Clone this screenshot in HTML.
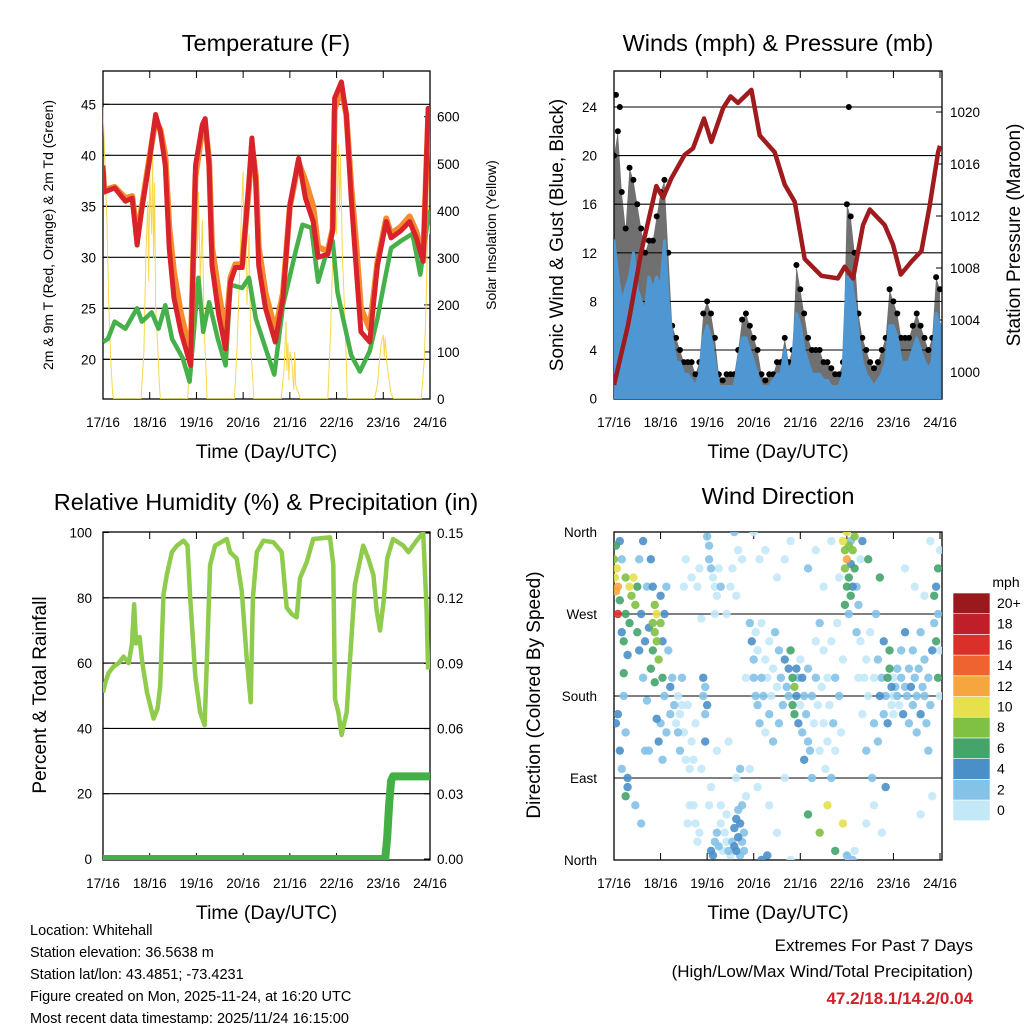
<!DOCTYPE html>
<html><head><meta charset="utf-8"><style>
html,body{margin:0;padding:0;background:#fff;}
svg{display:block;font-family:"Liberation Sans",Arial,sans-serif;}
</style></head><body>
<svg id="c" width="1024" height="1024" viewBox="0 0 1024 1024" xmlns="http://www.w3.org/2000/svg">
<defs>
<clipPath id="cp1"><rect x="103" y="71" width="327" height="328"/></clipPath>
<clipPath id="cp2"><rect x="614" y="71" width="328" height="328"/></clipPath>
<clipPath id="cp3"><rect x="103" y="532" width="327" height="328"/></clipPath>
<clipPath id="cp4"><rect x="614" y="532" width="328" height="328"/></clipPath>
</defs>
</svg>
<script>
// ---------- DATA ----------
const dayLabels=["17/16","18/16","19/16","20/16","21/16","22/16","23/16","24/16"];
const tempTicks=[20,25,30,35,40,45];
const solarTicks=[0,100,200,300,400,500,600];
const windTicks=[0,4,8,12,16,20,24];
const presTicks=[1000,1004,1008,1012,1016,1020];
const rhTicks=[0,20,40,60,80,100];
const precipTicks=["0.00","0.03","0.06","0.09","0.12","0.15"];
const dirLabels=["North","East","South","West","North"];
const speedBins=["0","2","4","6","8","10","12","14","16","18","20+"];
const speedColors=["#c3e8f8","#84c2e8","#4b8fc8","#45a46a","#80c144","#e6e04c","#f5a63e","#ee632e","#da3029","#c01f29","#9a191c"];

const tT=[0,0.6,6,11.5,15,17.5,20,23.5,27,29.5,32,34,36.5,40,45,47.5,51,52.5,54.5,56,59.5,63,65.5,68,71.5,75,76.5,78.5,80,83.5,88.5,92.5,96,100.5,104,108,110.5,115.5,118,119,122.5,125,127.5,130,132.5,137,141,145.5,148,153,157.5,161,164.5,167,168];
const tempRed=[39,36.4,36.8,35.5,35.8,31.2,34.8,39,44,42.3,39,30.9,26,22.7,19.4,39,43,43.6,39,29.2,24.3,21,27.6,29,29,37.4,41.7,37.4,29.2,25,21.7,26,35.1,39.7,35.8,33.5,30,30.3,32.6,45.6,47.2,44,35.8,29.2,22.7,21.7,29.2,33.5,31.9,32.6,33.5,31.9,29.6,44.6,43.6];
const tempOrange=[38.5,36.6,36.9,35.8,36,32,35,39.3,43.5,42.5,40,33,28.5,24.5,20.5,38,42.5,43,39.5,31,26.5,22.5,28,29.3,29.3,37,41,38,31,26.5,22.8,26.5,35,39.3,37.5,35,31,30.6,32.8,44.5,46.5,44,37,31.5,25,23,29.5,33.8,32.3,33,34,32.5,30,43.5,43];
const tD=[0,2.5,6,11.5,17.5,20,25,28.5,32,35.5,41,44.5,49,51.5,54.5,59,63,65.5,71.5,75,78.5,83.5,88,92.5,99,102.5,107,110.5,114,118,120.5,123,127.5,132,137,141,145,148,153,159,163,167,168];
const dewGreen=[21.7,22,23.7,23,25,23.7,24.6,23,25.3,22,20.1,17.8,28,22.7,25.6,22,19.4,27.3,27,28,24,21.1,18.5,25.3,30.6,33.2,32.9,27.6,29.9,31.6,26.6,24.3,20.4,18.8,20.8,24,28,30.9,31.6,32.3,28.3,33.9,34.6];
const tS=[0,1,2,3,4,5,5.5,19.5,21,22,23,23.5,24,25,25.5,26,26.5,27,28,29,29.5,43.5,45,46,47,48,48.5,49,50,51,52,53,53.5,67.5,69,70,71,72,72.5,73,74,75,76,77,77.5,91.5,93,94,94.5,95,95.5,96,97,98,98.5,99,101.5,115.5,117,118,119,120,121,121.5,122,123,124,125,125.5,139.5,141,142,143,144,144.5,145,146,147,148,149.5,163.5,165,166,167,168];
const solar=[620,500,380,200,80,10,0,0,100,300,420,250,480,350,526,300,460,200,120,30,0,0,150,280,430,483,300,440,250,380,150,50,0,0,120,250,380,483,300,420,200,350,100,40,0,0,60,164,60,120,40,100,80,20,100,30,0,0,150,300,450,350,540,400,520,300,200,80,0,0,30,80,120,136,90,130,70,40,10,0,0,80,200,412,350];

const tP=[0,7.2,14.1,21.8,25.3,29.6,36.4,40.7,46.4,50.2,56.2,60.1,63.9,70.8,75.1,82.8,88,93.1,98.3,106.9,115.4,118.9,123.2,128.3,131.8,139.5,143.8,147.8,153.3,158.4,162.7,167,168];
const pressure=[999,1003.6,1009.3,1014.3,1013.4,1014.9,1016.7,1017.2,1019.5,1017.7,1020.3,1021.2,1020.7,1021.7,1018.2,1016.9,1014.4,1013.1,1008.7,1007.4,1007.2,1008.1,1007.2,1011.3,1012.5,1011.3,1009.8,1007.5,1008.5,1009.3,1012.8,1016.9,1017.4];
const windHours=[0,2,4,6,8,10,12,14,16,18,20,22,24,26,28,30,32,34,36,38,40,42,44,46,48,50,52,54,56,58,60,62,64,66,68,70,72,74,76,78,80,82,84,86,88,90,92,94,96,98,100,102,104,106,108,110,112,114,116,118,120,122,124,126,128,130,132,134,136,138,140,142,144,146,148,150,152,154,156,158,160,162,164,166,168];
const windSpeed=[13,10,8,9,10,12,9,8,7,10,9,10,9,13,8,5,3,3,2,2,1.5,1,2,5,6,5,3,1,1,1,1,1,3,5,5,4,3,2,1,1,1,1.5,2,2,4,2,3,7,6,4,3,2,2,2,1.5,1.5,1,1,1,2,10,10,8,5,3,2,1.5,1,1.5,2,3,6,6,5,3,3,3,4,5,4,3,2.5,3,7,6];
const windGust=[20,22,17,14,19,18,16,14,12,13,13,15,17,18,12,6,5,4,3,3,3,2,3,7,8,7,5,2,1.5,2,2,2,4,6.5,7,6,5,4,2,1.5,2,2,3,3,5,3,4,11,9,7,5,4,4,4,3,3,2.5,2,2,3,16,15,12,7,5,4,3,2.5,3,4,5,9,8,7,5,5,5,6,7,6,5,4,5,10,9];
const gustPeakT=[1,3,121];
const gustPeakV=[25,24,24];

const tRH=[0,1.2,2.9,5.5,8,10.6,13.2,14.9,16,17,18.8,20,22.6,25.1,26,28,29.4,31.1,32.8,35.4,38,41.4,43.4,44.8,47.4,49.9,52.2,53.4,55,57.6,63.6,65.3,68.7,71.3,73.9,75.9,77,79,82.4,87.6,91.8,94.4,97,99.5,101.2,104.7,108,116.6,118.3,119.2,120.9,122.6,125.2,126.9,129.4,133.7,136.3,138.9,140.6,142.3,144,146,149,154.3,156.9,161.1,164.5,166.2,167];
const rh=[51,54,57,59,60,62,60,66,78,66,68,61,51,45,43,46,53,81,87,94,96,97.5,96,80,56,45,41,61,90,96,98,94,92,82,61,48,80,94,97.5,97,94,77,75,74,86,91,98,98.5,90,49,45,38,45,61,84,96,92,87,76,70,78,92,98,96,94,97.5,100,77,58];
const tPr=[0,145,146,147,148,149,168];
const precip=[0,0,0.01,0.025,0.036,0.038,0.038];

const dT=[0,0.5,1,1,1.5,2,2,3,3,4,4,5,5,5,6,6,7,7,8,8,1,2,3,6,7,4,6,9,10,11,12,12,13,13,14,15,15,16,16,11,14,17,17,18,19,20,20,21,21,22,22,23,24,24,25,25,26,26,27,28,29,22,23,21,20,19,18,24,27,25,29,30,31,32,33,33,34,34,35,35,36,37,38,39,40,41,42,42,43,44,45,46,46,47,47,48,47,36,37,40,43,45,44,41,39,38,48,49,49,50,51,52,53,54,55,52,50,51,52,53,54,55,56,49,50,53,55,57,58,58,59,60,61,62,62,63,63,64,64,65,65,66,66,67,67,68,60,61,62,64,66,58,63,68,59,63,65,70,71,72,72,73,73,74,74,75,76,76,77,78,78,79,80,80,81,82,82,83,84,85,85,86,87,88,89,90,90,91,92,92,93,93,94,94,95,95,96,96,72,75,78,84,88,91,70,74,80,84,88,91,76,79,97,97,98,98,99,100,100,101,102,102,103,104,104,105,106,106,107,108,108,109,110,110,111,112,112,113,114,114,115,116,117,118,100,104,108,112,116,100,106,110,114,118,118,119,119,120,120,120,121,121,122,122,123,123,124,124,119,121,122,123,120,121,124,125,125,126,127,126,127,128,129,130,130,131,132,133,134,134,135,136,136,137,138,139,139,140,141,141,142,142,143,143,144,144,144,130,134,138,131,137,128,140,145,146,146,147,148,148,149,150,150,151,152,152,153,154,154,155,156,156,157,158,158,159,160,160,161,162,162,163,164,165,165,166,166,167,167,167,168,168,168,150,155,160,163,164,158,166,153,161];
const dDir=[330,310,345,295,320,300,270,350,285,250,330,240,205,180,270,310,225,90,300,260,150,160,120,70,80,100,140,290,310,280,300,250,230,330,270,200,350,240,120,60,40,175,300,255,210,230,260,280,250,270,240,220,260,290,200,240,180,270,300,230,190,155,130,195,300,330,120,150,140,110,160,200,170,150,140,180,160,120,170,200,140,110,170,100,130,60,40,150,20,30,100,180,200,160,190,170,130,300,330,310,300,265,320,110,60,40,355,345,330,320,310,300,290,320,300,270,10,5,20,30,15,40,10,60,80,120,60,30,50,20,10,5,20,15,35,10,45,25,55,5,40,20,60,30,10,70,300,320,360,340,330,270,290,200,130,90,100,260,240,220,200,180,250,170,230,150,200,260,180,140,220,200,240,160,180,210,130,250,190,230,150,200,170,220,190,180,210,230,200,170,190,160,180,210,200,150,220,170,360,330,340,310,330,350,100,80,60,30,90,0,0,5,200,140,180,110,160,130,210,120,180,90,150,200,240,170,120,260,190,150,230,100,200,130,170,240,90,150,200,120,260,180,140,220,320,340,300,350,310,50,30,60,10,40,350,340,320,360,330,300,345,310,325,290,340,300,320,355,280,270,350,0,5,2,10,300,250,200,330,280,240,160,200,220,120,180,250,90,200,150,270,220,130,180,200,160,240,180,200,150,210,230,190,170,180,200,160,40,60,30,330,310,350,80,190,180,210,170,200,230,160,190,250,180,210,150,190,170,230,200,180,140,210,160,250,190,180,220,150,200,120,170,230,260,290,300,240,320,270,200,180,340,230,320,300,290,350,70,50,20,100,90];
const dSpd=[9,10,6,12,10,13,16,4,7,5,3,6,6,3,7,8,4,4,11,7,4,4,4,7,4,2,3,9,10,8,6,6,4,3,5,3,4,4,3,3,3,3,2,4,6,7,8,9,8,11,9,8,8,4,6,5,3,4,2,3,4,4,4,6,4,4,3,2,2,2,3,2,2,1,2,1,1,2,1,2,1,0,1,0,0,1,0,1,0,1,1,3,4,3,3,4,4,0,1,1,0,0,1,1,1,1,3,3,2,2,1,1,1,1,2,1,4,4,3,2,2,1,1,1,0,0,0,0,1,0,2,1,2,4,4,4,4,4,3,3,4,3,3,2,3,1,1,1,2,0,1,0,0,1,0,0,3,3,4,2,2,3,1,3,1,2,3,1,2,1,1,0,1,2,1,1,2,2,1,2,2,3,3,4,2,2,5,6,7,7,8,6,5,5,3,4,1,0,1,1,1,1,1,0,1,0,1,0,0,0,4,4,4,3,3,4,2,3,3,2,2,2,1,2,1,1,1,2,1,1,0,1,1,1,0,1,2,2,3,1,0,2,1,1,2,1,1,0,1,7,9,10,6,11,10,8,9,10,13,7,8,7,4,7,9,5,6,8,6,2,3,2,2,1,1,2,2,1,1,2,1,1,1,1,2,1,1,2,1,2,3,3,2,4,3,2,4,3,6,4,7,6,5,1,1,1,0,1,1,1,6,6,4,4,3,2,3,1,3,2,4,2,4,2,2,3,4,2,2,3,2,3,2,4,2,3,2,3,2,2,3,3,4,2,6,5,7,6,3,7,1,1,1,0,1,1,1,1,1];

// ---------- HELPERS ----------
const NS="http://www.w3.org/2000/svg";
const svg=document.getElementById('c');
function mk(tag,attrs,parent){const e=document.createElementNS(NS,tag);for(const k in attrs)e.setAttribute(k,attrs[k]);(parent||svg).appendChild(e);return e;}
function txt(s,x,y,size,anchor,parent,extra){const e=mk('text',Object.assign({x:x,y:y,'font-size':size,'text-anchor':anchor||'middle',fill:'#000'},extra||{}),parent);e.textContent=s;return e;}
function pathFrom(xs,ys,fx,fy){let d='';for(let i=0;i<xs.length;i++){d+=(i?'L':'M')+fx(xs[i]).toFixed(1)+','+fy(ys[i]).toFixed(1);}return d;}

const P1={x0:103,x1:430,y0:71,y1:399};
const P2={x0:614,x1:942,y0:71,y1:399};
const P3={x0:103,x1:430,y0:532,y1:860};
const P4={x0:614,x1:942,y0:532,y1:860};
const xT1=t=>P1.x0+t*(P1.x1-P1.x0)/168;
const xT2=t=>P2.x0+t*(940-P2.x0)/168;
const yTemp=T=>359.3-(T-20)*10.2;
const ySolar=S=>399-S*0.4705;
const yWind=w=>398.6-w*12.15;
const yPres=p=>372-(p-1000)*13;
const yRH=r=>859-r*3.265;
const yPr=p=>859-p*2173;
const yDir=d=>860-d*(328/360);

function frame(P,xf,name){
  const g=mk('g',{});
  
  
  mk('rect',{x:P.x0,y:P.y0,width:P.x1-P.x0,height:P.y1-P.y0,fill:'none',stroke:'#000','stroke-width':1.3},g);
  for(let i=0;i<dayLabels.length;i++){
    const x=xf(i*24);
    mk('line',{x1:x,x2:x,y1:P.y1,y2:P.y1-7,stroke:'#000'},g);
    mk('line',{x1:x,x2:x,y1:P.y0,y2:P.y0+7,stroke:'#000'},g);
    const l=txt(dayLabels[i],x,P.y1+28,13.5,'middle',g);
    
    
  }
  const xt=txt('Time (Day/UTC)',(P.x0+P.x1)/2,P.y1+59,19.5,'middle',g);
  
  
  return g;
}
function hgrid(P,vals,yf,g,left,labels,lx,grid){
  vals.forEach((v,i)=>{const y=yf(v);
    if(grid&&y>P.y0+1&&y<P.y1-1)mk('line',{x1:P.x0,x2:P.x1,y1:y,y2:y,stroke:'#000','stroke-width':1.1},g);
    if(labels){const l=txt(labels[i],lx,y+5,13.5,left?'end':'start',g);
      
      }
    mk('line',{x1:left?P.x0:P.x1,x2:left?P.x0+6:P.x1-6,y1:y,y2:y,stroke:'#000'},g);
  });
}
function title(s,x,y){const t=txt(s,x,y,23.5,'middle');return t;}
function ytitle(s,x,y,size,name){const t=txt(s,0,0,size,'middle',svg,{transform:`translate(${x},${y}) rotate(-90)`});return t;}

// ---------- PANEL 1 ----------
title('Temperature (F)',266,51);
const g1=frame(P1,xT1,'temperature');
hgrid(P1,tempTicks,yTemp,g1,true,tempTicks.map(String),96,true);
hgrid(P1,solarTicks,ySolar,g1,false,solarTicks.map(String),437,false);
ytitle('2m & 9m T (Red, Orange) & 2m Td (Green)',53,235,14,'temp-y-axis-title');
ytitle('Solar Insolation (Yellow)',496,235,14,'solar-y-axis-title');
const c1=mk('g',{'clip-path':'url(#cp1)'});


const sol=mk('path',{d:pathFrom(tS,solar,xT1,ySolar),fill:'none',stroke:'#f7d84a','stroke-width':1},c1);


const dew=mk('path',{d:pathFrom(tD,dewGreen,xT1,yTemp),fill:'none',stroke:'#46b04a','stroke-width':4.5,'stroke-linejoin':'round'},c1);


const or=mk('path',{d:pathFrom(tT,tempOrange,xT1,yTemp),fill:'none',stroke:'#f58a2e','stroke-width':6,'stroke-linejoin':'round'},c1);


const rd=mk('path',{d:pathFrom(tT,tempRed,xT1,yTemp),fill:'none',stroke:'#d8232a','stroke-width':5,'stroke-linejoin':'round'},c1);



// ---------- PANEL 2 ----------
title('Winds (mph) & Pressure (mb)',778,51);
const g2=frame(P2,xT2,'winds');
hgrid(P2,windTicks,yWind,g2,true,windTicks.map(String),597,true);
hgrid(P2,presTicks,yPres,g2,false,presTicks.map(String),950,false);
ytitle('Sonic Wind & Gust (Blue, Black)',563,235,19,'wind-y-axis-title');
ytitle('Station Pressure (Maroon)',1020,235,19,'pressure-y-axis-title');
const c2=mk('g',{'clip-path':'url(#cp2)'});


{
  let d='M'+xT2(windHours[0])+','+yWind(windGust[0]);
  for(let i=1;i<windHours.length;i++)d+='L'+xT2(windHours[i]).toFixed(1)+','+yWind(windGust[i]).toFixed(1);
  for(let i=windHours.length-1;i>=0;i--)d+='L'+xT2(windHours[i]).toFixed(1)+','+yWind(windSpeed[i]).toFixed(1);
  const gb=mk('path',{d:d+'Z',fill:'#111','fill-opacity':0.6},c2);
  
  
}
for(let i=0;i<windHours.length;i++){
  const dt=mk('circle',{cx:xT2(windHours[i]),cy:yWind(windGust[i]),r:3,fill:'#000'},c2);
  
  
}
for(let i=0;i<gustPeakT.length;i++){
  const dt=mk('circle',{cx:xT2(gustPeakT[i]),cy:yWind(gustPeakV[i]),r:3,fill:'#000'},c2);
  
  
}
{
  let d='M'+xT2(0)+','+yWind(0);
  for(let i=0;i<windHours.length;i++)d+='L'+xT2(windHours[i]).toFixed(1)+','+yWind(windSpeed[i]).toFixed(1);
  d+='L'+xT2(168)+','+yWind(0)+'Z';
  const wb=mk('path',{d:d,fill:'#4f97d2',stroke:'#4f97d2','stroke-width':3,'stroke-linejoin':'round'},c2);
  
  
}
const pr=mk('path',{d:pathFrom(tP,pressure,xT2,yPres),fill:'none',stroke:'#a01b1e','stroke-width':4.5,'stroke-linejoin':'round'},c2);



// ---------- PANEL 3 ----------
title('Relative Humidity (%) & Precipitation (in)',266,510);
const g3=frame(P3,xT1,'humidity');
hgrid(P3,rhTicks,yRH,g3,true,rhTicks.map(String),92,true);
hgrid(P3,precipTicks.map(Number),yPr,g3,false,precipTicks,437,false);
ytitle('Percent & Total Rainfall',46,695,19,'rh-y-axis-title');
const c3=mk('g',{'clip-path':'url(#cp3)'});


const pp=mk('path',{d:pathFrom(tPr,precip,xT1,yPr),fill:'none',stroke:'#43b045','stroke-width':8,'stroke-linejoin':'round','stroke-linecap':'round'},c3);


const rl=mk('path',{d:pathFrom(tRH,rh,xT1,yRH),fill:'none',stroke:'#8fcb4c','stroke-width':4.5,'stroke-linejoin':'round'},c3);



// ---------- PANEL 4 ----------
title('Wind Direction',778,504);
const g4=frame(P4,xT2,'wind-direction');
hgrid(P4,[0,90,180,270,360],yDir,g4,true,dirLabels,597,true);
ytitle('Direction (Colored By Speed)',540,695,19,'direction-y-axis-title');
const c4=mk('g',{'clip-path':'url(#cp4)'});


const n=Math.min(dT.length,dDir.length,dSpd.length);
const order=[...Array(n).keys()].sort((a,b)=>dSpd[a]-dSpd[b]);
for(const i of order){
  const bin=Math.min(10,Math.floor(dSpd[i]/2));
  const c=mk('circle',{cx:xT2(dT[i]),cy:yDir(dDir[i]),r:4.2,fill:speedColors[bin],'fill-opacity':0.9},c4);
  
  
}
const cb=mk('g',{});


const cbt=txt('mph',1006,587,14,'middle',cb);


for(let i=0;i<speedBins.length;i++){
  const y=593+(10-i)*20.7;
  const r=mk('rect',{x:953,y:y,width:37,height:20.7,fill:speedColors[i],stroke:'#fff','stroke-width':0.6},cb);
  
  
  const l=txt(speedBins[i],997,y+15,14,'start',cb);
  
  
}

// ---------- FOOTER ----------
const foot=["Location: Whitehall","Station elevation: 36.5638 m","Station lat/lon: 43.4851; -73.4231","Figure created on Mon, 2025-11-24, at 16:20 UTC","Most recent data timestamp: 2025/11/24 16:15:00"];
foot.forEach((s,i)=>{const t=txt(s,30,935+i*22,14.5,'start');
  
  });
const e1=txt('Extremes For Past 7 Days',973,951,17,'end');


const e2=txt('(High/Low/Max Wind/Total Precipitation)',973,977,17,'end');


const e3=txt('47.2/18.1/14.2/0.04',973,1004,17,'end',svg,{fill:'#d0202a','font-weight':'bold'});


</script>
</body></html>
